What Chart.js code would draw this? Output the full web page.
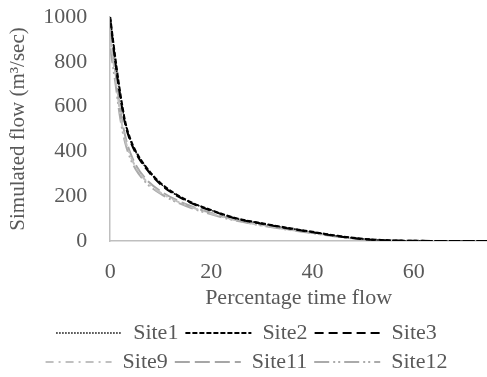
<!DOCTYPE html>
<html>
<head>
<meta charset="utf-8">
<script src="https://cdn.jsdelivr.net/npm/chart.js@4/dist/chart.umd.min.js"></script>
<style>
  html, body { margin: 0; padding: 0; background: #fff; }
  #wrap { width: 487px; height: 377px; }
</style>
</head>
<body>
<div id="wrap"><canvas id="fdc"></canvas></div>
<script>
// percentage of time flow is equalled or exceeded
const pct = [0, 1, 2, 3, 4, 5, 7, 10, 15, 20, 25, 30, 35, 40, 45, 50, 55, 60, 65, 70, 74.5];

const site1  = [1000, 810, 650, 525, 450, 400, 330, 255, 182, 137, 100, 78, 58, 40, 22, 9, 3, 1, 0, 0, 0];
const site2  = [1000, 820, 660, 530, 455, 403, 333, 258, 184, 138, 101, 79, 59, 41, 23, 10, 3, 1, 0, 0, 0];
const site3  = [990, 800, 640, 518, 445, 395, 326, 252, 180, 135, 99, 77, 57, 39, 21, 8, 2, 1, 0, 0, 0];
const site9  = [900, 740, 565, 450, 380, 332, 270, 215, 160, 122, 92, 70, 52, 36, 20, 8, 2, 0, 0, 0, 0];
const site11 = [950, 760, 585, 465, 392, 342, 278, 222, 164, 125, 94, 72, 53, 37, 21, 8, 2, 0, 0, 0, 0];
const site12 = [860, 710, 545, 435, 368, 322, 262, 210, 156, 119, 90, 69, 51, 35, 19, 7, 2, 0, 0, 0, 0];

const xTicks = [0, 20, 40, 60];
const yTicks = [0, 200, 400, 600, 800, 1000];

function pts(vals) {
  return pct.map((p, i) => ({ x: p, y: vals[i] }));
}

const grey = '#595959';
const serif = 'Liberation Serif';

new Chart(document.getElementById('fdc'), {
  type: 'scatter',
  data: {
    datasets: [
      { label: 'Site1',  data: pts(site1),  borderColor: '#000', borderWidth: 1.5, borderDash: [1.5, 1.5] },
      { label: 'Site2',  data: pts(site2),  borderColor: '#000', borderWidth: 2,   borderDash: [5, 2] },
      { label: 'Site3',  data: pts(site3),  borderColor: '#000', borderWidth: 2,   borderDash: [9, 5] },
      { label: 'Site9',  data: pts(site9),  borderColor: '#c0c0c0', borderWidth: 2, borderDash: [8, 5, 2, 5] },
      { label: 'Site11', data: pts(site11), borderColor: '#a6a6a6', borderWidth: 2, borderDash: [15, 5] },
      { label: 'Site12', data: pts(site12), borderColor: '#aaaaaa', borderWidth: 2, borderDash: [15, 4, 2, 3, 2, 4] }
    ].map(d => Object.assign(d, {
      showLine: true, pointRadius: 0,
      backgroundColor: 'rgba(0,0,0,0)', cubicInterpolationMode: 'monotone'
    }))
  },
  options: {
    responsive: true,
    maintainAspectRatio: false,
    animation: false,
    layout: { padding: { top: 0, right: 0, left: 6, bottom: -6 } },
    plugins: {
      tooltip: { enabled: false },
      legend: {
        position: 'bottom',
        labels: {
          font: { family: serif, size: 22 },
          color: grey,
          usePointStyle: true,
          pointStyle: 'line',
          pointStyleWidth: 66,
          boxHeight: 10,
          padding: 7,
          // point-style items lose the dataset dash, so copy it back
          generateLabels: chart => {
            const items = Chart.defaults.plugins.legend.labels.generateLabels(chart);
            items.forEach(it => {
              const ds = chart.data.datasets[it.datasetIndex];
              it.lineDash = ds.borderDash;
              it.lineWidth = ds.borderWidth;
              it.strokeStyle = ds.borderColor;
              it.pointStyle = 'line';
            });
            return items;
          }
        }
      }
    },
    scales: {
      x: {
        type: 'linear',
        min: 0,
        max: 74.5,
        afterBuildTicks: axis => { axis.ticks = xTicks.map(v => ({ value: v })); },
        afterFit: axis => { axis.height = 74; },
        grid: { display: false, drawTicks: false },
        border: { color: '#bfbfbf', width: 1.5 },
        ticks: { font: { family: serif, size: 22 }, color: grey, padding: 18 },
        title: { display: true, text: 'Percentage time flow', font: { family: serif, size: 22 }, color: grey, padding: { top: 0, bottom: 4 } }
      },
      y: {
        min: 0,
        max: 1000,
        afterBuildTicks: axis => { axis.ticks = yTicks.map(v => ({ value: v })); },
        // wide tick padding would otherwise push the plot top down
        afterFit: axis => { axis.paddingTop = 17; axis.paddingBottom = 17; },
        grid: { display: false, drawTicks: false },
        border: { color: '#bfbfbf', width: 1.5 },
        ticks: { font: { family: serif, size: 22 }, color: grey, padding: 23, callback: v => String(v) },
        title: { display: true, text: 'Simulated flow (m\u00B3/sec)', font: { family: serif, size: 21 }, color: grey, padding: { top: 0, bottom: -11 } }
      }
    }
  }
});
</script>
</body>
</html>
